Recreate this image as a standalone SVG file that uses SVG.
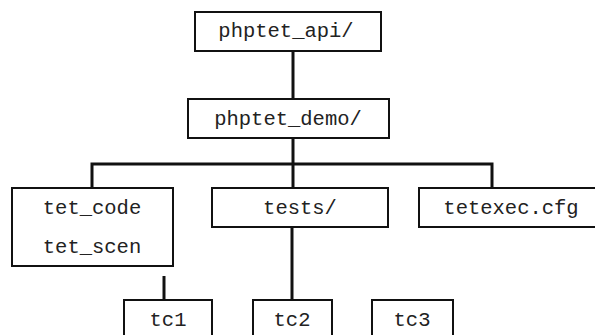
<svg xmlns="http://www.w3.org/2000/svg" width="595" height="335" viewBox="0 0 595 335">
  <style>
    .box { fill: #ffffff; stroke: #111111; stroke-width: 2; }
    .lbl { font-family: "Liberation Mono", "Courier New", monospace; font-size: 20.5px; fill: #222222; text-anchor: middle; }
    .wire { fill: none; stroke: #111111; stroke-width: 3; }
  </style>
  <rect width="595" height="335" fill="#ffffff"/>

  <!-- connectors -->
  <g id="connectors">
    <line class="wire" x1="293" y1="51" x2="293" y2="99"/>
    <line class="wire" x1="293" y1="138" x2="293" y2="188"/>
    <polyline class="wire" points="92,188 92,164 492,164 492,188"/>
    <line class="wire" x1="292" y1="227" x2="292" y2="300"/>
    <line class="wire" x1="164" y1="276" x2="164" y2="300"/>
  </g>

  <g id="phptet_api">
    <rect class="box" x="195" y="12" width="186" height="39"/>
    <text class="lbl" x="286" y="37">phptet_api/</text>
  </g>
  <g id="phptet_demo">
    <rect class="box" x="188" y="99" width="201" height="39"/>
    <text class="lbl" x="288" y="125">phptet_demo/</text>
  </g>
  <g id="tet_code">
    <rect class="box" x="12" y="188" width="161" height="78"/>
    <text class="lbl" x="92" y="214">tet_code</text>
    <text class="lbl" x="92" y="253">tet_scen</text>
  </g>
  <g id="tests">
    <rect class="box" x="212" y="188" width="176" height="39"/>
    <text class="lbl" x="300" y="214">tests/</text>
  </g>
  <g id="tetexec">
    <rect class="box" x="419" y="188" width="190" height="39"/>
    <text class="lbl" x="511" y="214">tetexec.cfg</text>
  </g>
  <g id="tc1">
    <rect class="box" x="124" y="300" width="88" height="50"/>
    <text class="lbl" x="168" y="326">tc1</text>
  </g>
  <g id="tc2">
    <rect class="box" x="253" y="300" width="79" height="50"/>
    <text class="lbl" x="292" y="326">tc2</text>
  </g>
  <g id="tc3">
    <rect class="box" x="372" y="300" width="81" height="50"/>
    <text class="lbl" x="412" y="326">tc3</text>
  </g>
</svg>
